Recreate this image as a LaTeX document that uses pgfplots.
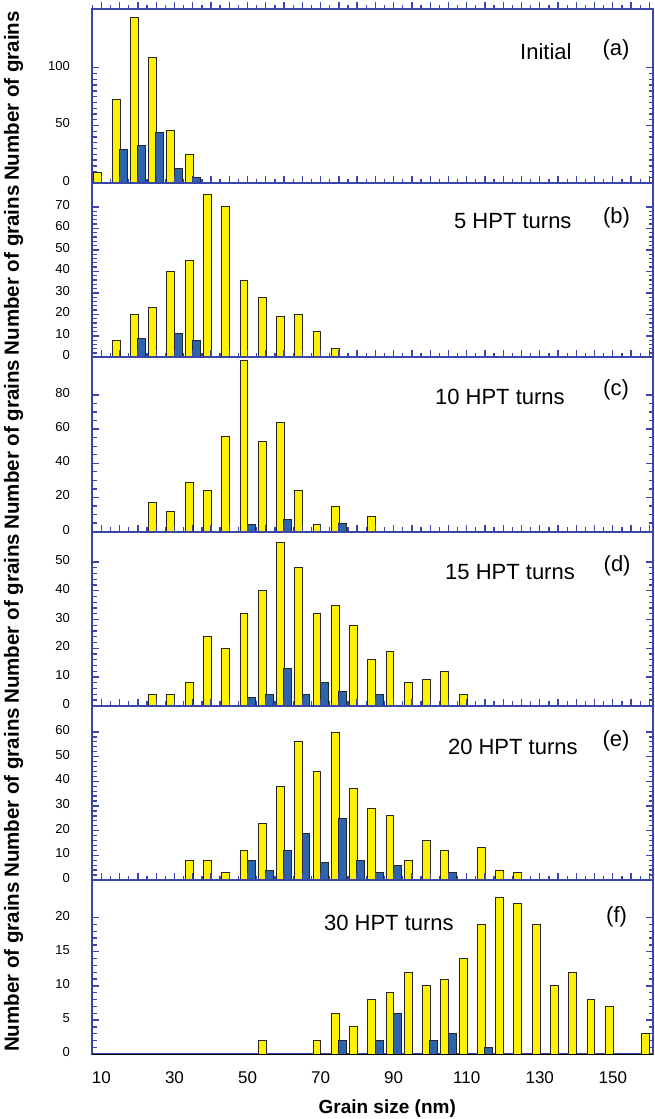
\documentclass[border=0pt]{standalone}
\usepackage{fontspec}
\setmainfont{Liberation Sans}
\usepackage{pgfplots}
\pgfplotsset{compat=1.18}
\definecolor{axblue}{RGB}{58,70,170}
\definecolor{baryel}{RGB}{255,242,0}
\definecolor{barblue}{RGB}{45,100,175}
\tikzset{ann/.style={font=\fontsize{22}{26}\selectfont, anchor=center}}
\pgfplotsset{
 panel/.style={
  scale only axis, width=560.7pt, height=174.2pt,
  anchor=north west,
  xmin=7.5, xmax=161, ymin=0,
  axis line style={axblue, line width=1.9pt},
  every tick/.style={axblue, line width=1.3pt},
  tick align=inside,
  xtick pos=right, xticklabel pos=right,
  xtick={10,30,...,150},
  minor xtick={7.5,10,...,160},
  extra x ticks={15,20,25,35,40,45,55,60,65,75,80,85,95,100,105,115,120,125,135,140,145,155,160},
  extra x tick labels={},
  extra x tick style={xtick pos=right},
  major tick length=7pt, minor tick length=4.5pt,
  xticklabels={},
  ybar, bar shift=0pt, bar width=2.15,
  yticklabel style={font=\fontsize{13}{15}\selectfont, xshift=-19pt, yshift=2pt},
  ylabel={\textbf{Number of grains}},
  ylabel style={at={(axis description cs:-0.1405,0.5)}, anchor=center, font=\fontsize{20.5}{24}\selectfont},
  /pgf/number format/assume math mode=true,
 },
 yel/.style={fill=baryel, draw=black!85, line width=0.9pt},
 blu/.style={fill=barblue, draw=black!85, line width=0.9pt},
}
\begin{document}
\begin{tikzpicture}
\path[use as bounding box] (0pt,0pt) rectangle (655pt,-1119pt);
% (a)
\begin{axis}[panel, at={(92.3pt,-9pt)}, ymax=151, ytick={0,50,100}, minor y tick num=9]
\addplot[yel] coordinates {(9,9)(14,73)(19,144)(24,109)(29,46)(34,25)};
\addplot[blu] coordinates {(16,29)(21,33)(26,44)(31,13)(36,5)};
\node[ann] at (axis description cs:0.809,0.753) {Initial};
\node[ann] at (axis description cs:0.934,0.765) {(a)};
\end{axis}
% (b)
\begin{axis}[panel, at={(92.3pt,-183.2pt)}, ymax=81, ytick={0,10,...,70}, minor y tick num=4]
\addplot[yel] coordinates {(14,8)(19,20)(24,23)(29,40)(34,45)(39,76)(44,70)(49,36)(54,28)(59,19)(64,20)(69,12)(74,4)};
\addplot[blu] coordinates {(21,9)(31,11)(36,8)};
\node[ann] at (axis description cs:0.750,0.783) {5 HPT turns};
\node[ann] at (axis description cs:0.935,0.800) {(b)};
\end{axis}
% (c)
\begin{axis}[panel, at={(92.3pt,-357.4pt)}, ymax=102, ytick={0,20,...,80}, minor y tick num=3]
\addplot[yel] coordinates {(24,17)(29,12)(34,29)(39,24)(44,56)(49,100)(54,53)(59,64)(64,24)(69,4)(74,15)(84,9)};
\addplot[blu] coordinates {(51,4)(61,7)(76,5)};
\node[ann] at (axis description cs:0.727,0.773) {10 HPT turns};
\node[ann] at (axis description cs:0.934,0.813) {(c)};
\end{axis}
% (d)
\begin{axis}[panel, at={(92.3pt,-531.6pt)}, ymax=60.6, ytick={0,10,...,50}, minor y tick num=4]
\addplot[yel] coordinates {(24,4)(29,4)(34,8)(39,24)(44,20)(49,32)(54,40)(59,57)(64,48)(69,32)(74,35)(79,28)(84,16)(89,19)(94,8)(99,9)(104,12)(109,4)};
\addplot[blu] coordinates {(51,3)(56,4)(61,13)(66,4)(71,8)(76,5)(86,4)};
\node[ann] at (axis description cs:0.745,0.768) {15 HPT turns};
\node[ann] at (axis description cs:0.936,0.802) {(d)};
\end{axis}
% (e)
\begin{axis}[panel, at={(92.3pt,-705.8pt)}, ymax=70.6, ytick={0,10,...,60}, minor y tick num=4]
\addplot[yel] coordinates {(34,8)(39,8)(44,3)(49,12)(54,23)(59,38)(64,56)(69,44)(74,60)(79,37)(84,29)(89,26)(94,8)(99,16)(104,12)(114,13)(119,4)(124,3)};
\addplot[blu] coordinates {(51,8)(56,4)(61,12)(66,19)(71,7)(76,25)(81,8)(86,3)(91,6)(106,3)};
\node[ann] at (axis description cs:0.750,0.763) {20 HPT turns};
\node[ann] at (axis description cs:0.934,0.798) {(e)};
\end{axis}
% (f)
\begin{axis}[panel, at={(92.3pt,-880pt)}, ymax=25.5, ytick={0,5,...,20}, minor y tick num=4,
  xticklabel pos=left,
  xticklabels={10,30,50,70,90,110,130,150},
  xticklabel style={font=\fontsize{17}{20}\selectfont, yshift=-7pt},
  xlabel={\textbf{Grain size (nm)}},
  xlabel style={at={(axis description cs:0.526,0)}, anchor=center, yshift=-54pt, font=\fontsize{19}{22}\selectfont}]
\addplot[yel] coordinates {(54,2)(69,2)(74,6)(79,4)(84,8)(89,9)(94,12)(99,10)(104,11)(109,14)(114,19)(119,23)(124,22)(129,19)(134,10)(139,12)(144,8)(149,7)(159,3)};
\addplot[blu] coordinates {(76,2)(86,2)(91,6)(101,2)(106,3)(116,1)};
\draw[black, line width=1.4pt] (rel axis cs:0,0) -- (rel axis cs:1,0);
\node[ann] at (axis description cs:0.529,0.753) {30 HPT turns};
\node[ann] at (axis description cs:0.935,0.788) {(f)};
\end{axis}
\end{tikzpicture}
\end{document}
